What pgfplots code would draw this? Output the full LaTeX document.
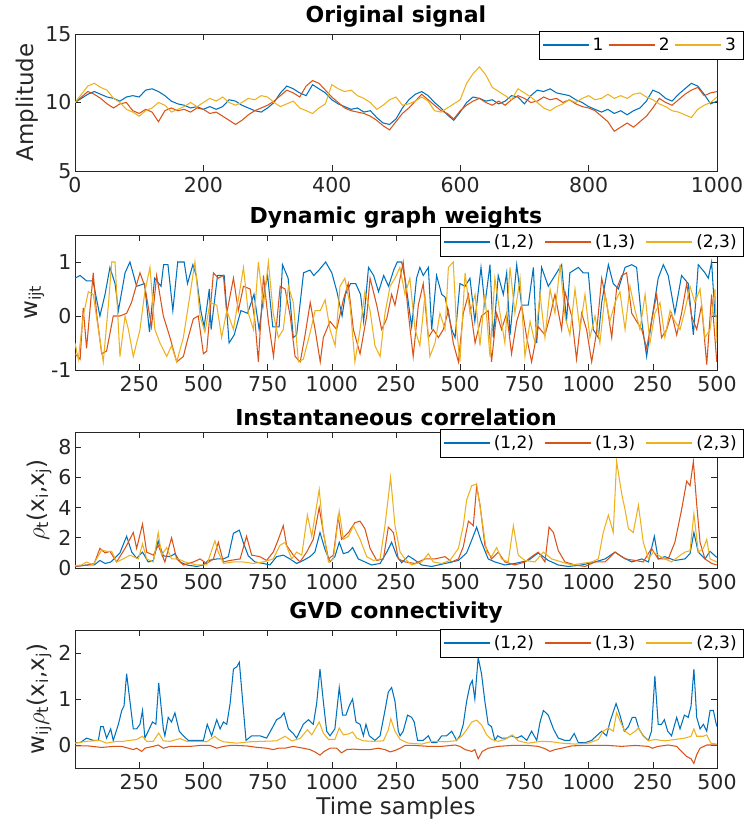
\documentclass[border=0pt]{standalone}
\usepackage{pgfplots}
\pgfplotsset{compat=1.18}
\usepackage{fontspec}
\setmainfont{DejaVu Sans}
\definecolor{mb}{rgb}{0,0.447,0.741}
\definecolor{mr}{rgb}{0.85,0.325,0.098}
\definecolor{my}{rgb}{0.929,0.694,0.125}
\definecolor{axc}{rgb}{0.15,0.15,0.15}
\pgfplotsset{
 gvd/.style={
  scale only axis, width=642pt, height=136pt,
  axis line style={draw=axc, line width=0.6pt},
  tick style={draw=axc, line width=0.6pt},
  major tick length=6pt, tick align=inside,
  tick label style={font=\fontsize{20.5}{22}\selectfont, text=axc},
  xticklabel style={yshift=-3pt},
  label style={font=\fontsize{23}{25}\selectfont, text=axc},
  title style={font=\fontsize{22}{24}\selectfont\bfseries, text=black, yshift=-3pt},
  /pgf/number format/assume math mode=true,
  /pgf/number format/1000 sep={},
  every axis plot/.append style={line width=1.05pt, mark=none},
  legend columns=3,
  legend style={font=\fontsize{17}{19}\selectfont, draw=black, line width=0.6pt, fill=white,
    inner xsep=3pt, inner ysep=2pt, anchor=north east,
    nodes={inner xsep=4pt, inner ysep=5pt},
    /tikz/every even column/.append style={column sep=7pt}},
  legend image code/.code={\fill[##1, draw=none] (0pt,-0.8pt) rectangle (46pt,0.8pt);},
 },
 wide/.style={xmin=0, xmax=2500, xtick={250,500,...,2500},
  xticklabels={250,500,750,1000,250,500,750,1000,250,500}},
}
\begin{document}
\begin{tikzpicture}
\path[use as bounding box] (0,0) rectangle (744pt,830pt);
% ---------------- Panel 1
\begin{axis}[gvd, at={(75pt,796pt)}, anchor=north west, height=137pt,
  title={Original signal}, ylabel={Amplitude},
  xmin=0, xmax=1000, ymin=5, ymax=15, xtick={0,200,...,1000}, ytick={5,10,15},
  legend style={at={(1.041,1.024)}, /tikz/every even column/.append style={column sep=1.5pt}}]
\addplot[mb] coordinates {(0,10.0)(10,10.3)(20,10.6)(30,10.8)(40,10.6)(50,10.4)(60,10.3)(70,10.1)(80,10.4)(90,10.5)(100,10.4)(110,10.9)(120,11.0)(130,10.8)(140,10.5)(150,10.1)(160,9.9)(170,9.8)(180,9.6)(190,9.7)(200,9.5)(210,9.7)(220,9.5)(230,9.7)(240,10.2)(250,10.1)(260,9.8)(270,9.6)(280,9.4)(290,9.3)(300,9.6)(310,10.0)(320,10.7)(330,11.2)(340,11.0)(350,10.7)(360,10.5)(370,11.3)(380,11.0)(390,10.7)(400,10.2)(410,9.9)(420,9.7)(430,9.5)(440,9.6)(450,9.3)(460,9.4)(470,8.9)(480,8.5)(490,8.4)(500,8.8)(510,9.6)(520,10.2)(530,10.6)(540,10.8)(550,10.5)(560,10.0)(570,9.6)(580,9.1)(590,8.7)(600,9.3)(610,10.0)(620,10.4)(630,10.3)(640,10.1)(650,10.2)(660,9.9)(670,10.1)(680,10.5)(690,10.4)(700,9.9)(710,10.5)(720,10.9)(730,10.8)(740,11.0)(750,10.7)(760,10.6)(770,10.5)(780,10.2)(790,10.0)(800,9.7)(810,9.5)(820,9.3)(830,9.5)(840,9.2)(850,9.4)(860,9.1)(870,9.4)(880,9.6)(890,10.1)(900,10.9)(910,10.7)(920,10.3)(930,10.1)(940,10.6)(950,11.0)(960,11.4)(970,11.2)(980,10.6)(990,9.9)(1000,10.1)};
\addplot[mr] coordinates {(0,10.0)(10,10.4)(20,10.8)(30,10.6)(40,10.3)(50,9.9)(60,9.6)(70,9.9)(80,10.0)(90,9.4)(100,9.2)(110,9.5)(120,9.3)(130,8.6)(140,9.4)(150,9.6)(160,9.4)(170,9.5)(180,9.3)(190,9.6)(200,9.5)(210,9.2)(220,9.3)(230,9.0)(240,8.7)(250,8.4)(260,8.7)(270,9.1)(280,9.4)(290,9.6)(300,9.8)(310,10.1)(320,10.5)(330,10.9)(340,10.7)(350,10.4)(360,11.2)(370,11.6)(380,11.4)(390,10.9)(400,10.4)(410,10.0)(420,9.6)(430,9.4)(440,9.3)(450,9.2)(460,9.0)(470,8.7)(480,8.3)(490,8.0)(500,8.6)(510,9.2)(520,9.6)(530,10.1)(540,10.6)(550,10.2)(560,9.8)(570,9.4)(580,9.2)(590,8.8)(600,9.4)(610,9.8)(620,10.1)(630,10.3)(640,10.0)(650,9.8)(660,10.1)(670,9.8)(680,10.2)(690,10.5)(700,10.3)(710,10.0)(720,10.1)(730,10.4)(740,10.2)(750,10.3)(760,10.0)(770,10.2)(780,9.9)(790,9.7)(800,9.6)(810,9.4)(820,9.0)(830,8.6)(840,7.9)(850,8.2)(860,8.5)(870,8.2)(880,8.6)(890,9.0)(900,9.6)(910,10.3)(920,10.0)(930,9.8)(940,10.2)(950,10.6)(960,10.9)(970,11.1)(980,10.5)(990,10.7)(1000,10.8)};
\addplot[my] coordinates {(0,10.0)(10,10.6)(20,11.2)(30,11.4)(40,11.1)(50,10.9)(60,10.3)(70,10.0)(80,9.5)(90,9.3)(100,9.0)(110,9.4)(120,9.6)(130,10.0)(140,9.8)(150,9.3)(160,9.5)(170,9.7)(180,10.0)(190,9.7)(200,10.0)(210,10.3)(220,10.1)(230,10.4)(240,10.0)(250,9.8)(260,10.0)(270,10.3)(280,10.2)(290,10.5)(300,10.4)(310,10.0)(320,9.7)(330,9.9)(340,10.1)(350,9.6)(360,9.4)(370,9.2)(380,9.6)(390,9.9)(400,11.3)(410,11.0)(420,10.8)(430,10.9)(440,10.5)(450,10.3)(460,10.0)(470,9.5)(480,9.8)(490,10.2)(500,10.4)(510,9.8)(520,9.9)(530,10.1)(540,10.4)(550,10.1)(560,9.4)(570,9.3)(580,9.6)(590,9.9)(600,10.2)(610,11.4)(620,12.1)(630,12.6)(640,12.0)(650,11.1)(660,10.8)(670,10.5)(680,10.2)(690,11.0)(700,10.7)(710,10.4)(720,10.0)(730,9.6)(740,9.4)(750,9.7)(760,9.9)(770,10.2)(780,10.0)(790,10.3)(800,10.5)(810,10.2)(820,10.3)(830,10.6)(840,10.3)(850,10.5)(860,10.3)(870,10.6)(880,10.7)(890,10.4)(900,10.2)(910,9.9)(920,9.7)(930,9.4)(940,9.3)(950,9.1)(960,8.9)(970,9.5)(980,9.8)(990,10.0)(1000,10.4)};
\legend{1,2,3}
\end{axis}
% ---------------- Panel 2
\begin{axis}[gvd, wide, at={(75pt,595pt)}, anchor=north west, height=135pt,
  title={Dynamic graph weights}, ylabel={w\textsubscript{ijt}},
  ymin=-1, ymax=1.5, ytick={-1,0,1},
  legend style={at={(1.042,1.056)}}]
\addplot[mb] coordinates {(0,0.7)(20,0.75)(45,0.65)(70,0.65)(97,0.0)(117,0.4)(136,0.9)(156,0.6)(169,0.1)(195,0.8)(214,1.0)(240,0.55)(271,0.6)(290,-0.3)(310,0.7)(335,0.55)(345,0.95)(362,0.95)(381,0.1)(400,1.0)(425,1.0)(438,0.6)(459,0.95)(472,0.75)(490,0.1)(503,-0.2)(523,0.5)(530,-0.25)(555,0.75)(581,0.75)(600,-0.5)(620,-0.35)(646,0.1)(672,0.05)(697,0.4)(717,-0.25)(737,0.45)(750,0.75)(770,-0.2)(795,-0.2)(808,0.95)(830,0.7)(850,-0.4)(863,-0.35)(890,0.8)(915,0.85)(930,0.75)(950,0.85)(976,1.0)(1000,0.8)(1020,0.45)(1040,0.0)(1053,0.4)(1073,0.6)(1093,0.6)(1112,0.4)(1124,-0.1)(1143,0.9)(1163,0.75)(1182,0.45)(1202,0.75)(1221,0.55)(1241,0.85)(1255,1.0)(1272,1.0)(1285,0.7)(1311,-0.2)(1330,0.7)(1343,0.9)(1356,0.75)(1376,0.9)(1389,-0.25)(1408,0.75)(1428,0.4)(1441,0.35)(1467,-0.25)(1480,-0.4)(1499,0.6)(1519,0.55)(1538,0.7)(1557,-0.1)(1581,0.9)(1596,0.2)(1616,0.95)(1629,-0.4)(1648,0.75)(1668,0.4)(1681,0.8)(1694,-0.35)(1720,0.95)(1739,0.2)(1765,0.2)(1785,0.9)(1798,-0.5)(1817,0.9)(1843,0.55)(1869,0.75)(1895,0.95)(1914,-0.1)(1927,0.8)(1960,0.9)(1979,0.8)(1999,0.8)(2018,-0.25)(2038,-0.4)(2051,0.25)(2077,0.95)(2096,0.6)(2116,0.5)(2142,0.9)(2168,0.95)(2187,0.9)(2207,-0.1)(2226,-0.75)(2245,-0.1)(2271,0.7)(2291,0.95)(2310,0.75)(2336,0.05)(2362,0.75)(2388,0.6)(2408,-0.35)(2427,0.95)(2453,0.8)(2466,0.7)(2479,1.0)(2492,0.0)(2500,0.0)};
\addplot[mr] coordinates {(0,-0.7)(20,-0.8)(32,0.15)(45,-0.6)(71,0.8)(84,0.05)(104,-0.7)(123,-0.65)(149,0.0)(175,0.0)(201,0.05)(220,0.25)(253,0.8)(272,0.55)(298,-0.2)(318,0.75)(344,0.0)(370,-0.4)(396,-0.85)(422,-0.75)(435,-0.5)(461,-0.05)(480,0.0)(500,-0.7)(513,-0.65)(539,0.8)(558,0.7)(578,0.75)(591,0.05)(617,0.7)(636,0.1)(656,0.55)(682,0.5)(701,-0.1)(714,-0.85)(734,0.75)(753,-0.1)(773,-0.75)(799,0.55)(818,0.5)(838,0.0)(857,-0.75)(877,-0.85)(896,-0.35)(916,0.25)(935,-0.25)(955,-0.85)(967,-0.4)(993,-0.1)(1019,-0.25)(1045,0.3)(1064,0.6)(1084,-0.25)(1110,-0.7)(1136,0.0)(1149,0.7)(1175,0.2)(1194,-0.25)(1214,-0.05)(1233,0.4)(1246,0.2)(1278,1.0)(1298,0.05)(1317,-0.75)(1337,0.2)(1356,0.6)(1376,-0.4)(1395,-0.25)(1415,-0.4)(1434,-0.25)(1454,0.1)(1473,-0.5)(1493,-0.85)(1512,0.05)(1532,0.4)(1558,-0.5)(1583,0.0)(1609,0.1)(1622,-0.85)(1642,0.05)(1661,-0.25)(1681,0.05)(1700,-0.7)(1720,-0.1)(1739,0.2)(1759,-0.4)(1778,-0.85)(1804,-0.2)(1830,-0.35)(1850,0.0)(1869,0.4)(1895,-0.25)(1908,0.45)(1934,0.0)(1953,-0.8)(1973,0.05)(1992,-0.25)(2012,-0.85)(2031,-0.3)(2051,0.7)(2070,0.25)(2090,-0.4)(2109,0.5)(2129,0.75)(2148,0.8)(2168,0.05)(2187,-0.1)(2207,-0.25)(2226,-0.6)(2245,-0.1)(2265,0.4)(2284,-0.4)(2304,-0.25)(2323,0.05)(2343,-0.35)(2362,0.05)(2382,0.6)(2401,0.0)(2421,-0.25)(2440,0.2)(2460,-0.9)(2479,0.4)(2499,-0.85)};
\addplot[my] coordinates {(0,-0.5)(13,-0.8)(32,0.0)(52,0.45)(71,0.4)(91,-0.25)(110,-0.85)(130,0.2)(143,1.0)(156,1.0)(175,-0.75)(195,0.0)(208,-0.25)(227,-0.75)(253,-0.25)(272,0.45)(292,0.9)(311,-0.25)(331,-0.5)(357,-0.75)(376,-0.55)(396,-0.85)(422,-0.4)(448,0.4)(467,1.0)(487,0.0)(506,-0.3)(526,0.25)(552,0.2)(571,-0.4)(591,0.1)(617,-0.25)(636,0.3)(656,0.9)(675,0.05)(695,-0.25)(714,1.0)(734,0.2)(753,1.0)(772,0.05)(792,-0.4)(811,-0.25)(831,0.55)(850,0.25)(870,-0.85)(889,-0.8)(916,-0.3)(935,0.1)(955,0.1)(974,0.3)(993,-0.25)(1013,-0.55)(1032,0.55)(1051,0.7)(1071,0.2)(1090,-0.85)(1110,-0.25)(1129,0.45)(1149,0.1)(1168,-0.55)(1188,-0.75)(1207,0.05)(1227,0.55)(1246,0.7)(1265,0.9)(1285,0.4)(1304,0.7)(1324,-0.25)(1343,-0.55)(1363,0.4)(1382,-0.75)(1402,-0.5)(1421,0.05)(1441,-0.25)(1454,0.9)(1473,1.0)(1486,-0.25)(1499,-0.85)(1519,0.8)(1538,0.05)(1558,0.4)(1577,-0.55)(1596,0.4)(1616,-0.75)(1635,0.7)(1655,0.05)(1674,-0.5)(1694,0.9)(1713,0.05)(1733,0.7)(1752,-0.75)(1772,-0.1)(1791,-0.5)(1811,0.4)(1830,-0.4)(1850,0.5)(1869,0.05)(1889,0.95)(1908,0.0)(1927,-0.35)(1947,0.5)(1966,-0.25)(1986,0.4)(2005,-0.4)(2025,0.0)(2044,-0.5)(2064,0.4)(2083,-0.1)(2103,0.25)(2122,0.45)(2142,-0.25)(2161,0.55)(2181,0.1)(2200,-0.25)(2220,0.4)(2239,-0.5)(2258,0.05)(2278,0.25)(2297,-0.4)(2317,0.1)(2336,-0.1)(2356,-0.25)(2375,0.1)(2395,0.55)(2414,0.25)(2434,0.5)(2453,-0.4)(2473,-0.25)(2492,0.5)(2500,-0.5)};
\legend{(1,2),(1,3),(2,3)}
\end{axis}
% ---------------- Panel 3
\begin{axis}[gvd, wide, at={(75pt,398pt)}, anchor=north west,
  title={Instantaneous correlation}, ylabel={$\rho$\textsubscript{t}(x\textsubscript{i},x\textsubscript{j})},
  ymin=0, ymax=9, ytick={0,2,4,6,8},
  legend style={at={(1.042,1.024)}}]
\addplot[mb] coordinates {(0,0.1)(25,0.15)(50,0.2)(75,0.2)(97,0.5)(117,0.3)(140,0.4)(175,1.0)(201,2.1)(221,1.05)(240,0.65)(263,1.05)(285,0.4)(305,0.5)(324,1.8)(344,0.8)(370,0.75)(389,0.95)(409,0.4)(435,0.2)(474,0.1)(500,0.2)(519,0.5)(552,0.6)(578,0.6)(597,0.75)(617,2.3)(640,2.5)(656,1.65)(675,0.8)(701,0.4)(733,0.3)(759,0.2)(785,0.75)(811,0.85)(837,0.6)(863,0.3)(889,0.5)(915,0.75)(934,1.05)(954,2.35)(973,1.25)(993,0.4)(1012,0.75)(1029,1.7)(1045,0.95)(1064,1.05)(1081,1.35)(1103,0.6)(1129,0.4)(1155,0.2)(1188,0.3)(1214,1.05)(1233,1.7)(1253,0.8)(1272,0.35)(1298,0.8)(1317,0.6)(1350,0.2)(1389,0.1)(1441,0.3)(1493,0.5)(1525,1.0)(1545,1.85)(1564,2.7)(1583,1.7)(1609,0.6)(1635,0.4)(1674,0.2)(1713,0.3)(1765,0.5)(1804,1.0)(1843,0.5)(1882,0.2)(1921,0.1)(1973,0.2)(2025,0.4)(2064,0.6)(2103,1.05)(2129,0.75)(2168,0.4)(2207,0.6)(2233,0.4)(2256,2.1)(2271,0.6)(2297,0.75)(2336,0.5)(2375,0.6)(2395,0.95)(2410,2.35)(2427,1.05)(2453,0.6)(2473,1.1)(2499,0.7)};
\addplot[mr] coordinates {(0,0.1)(25,0.15)(50,0.2)(75,0.3)(97,1.3)(117,1.0)(136,1.1)(162,0.4)(195,1.3)(227,2.35)(240,1.3)(263,2.9)(279,1.05)(305,0.85)(324,1.5)(350,0.4)(376,2.0)(396,0.6)(422,0.2)(461,0.4)(487,0.6)(513,0.3)(539,0.6)(558,1.7)(578,0.4)(604,0.5)(643,0.6)(668,2.1)(688,0.85)(720,0.75)(746,0.5)(772,1.05)(792,1.9)(811,2.8)(824,1.5)(850,0.85)(876,0.4)(902,1.05)(928,1.9)(951,4.0)(967,2.35)(987,0.6)(1006,0.85)(1025,3.4)(1038,1.9)(1065,2.35)(1090,3.0)(1110,3.1)(1129,2.6)(1149,1.3)(1175,0.5)(1201,0.6)(1220,2.7)(1240,2.35)(1259,0.6)(1285,0.4)(1324,0.3)(1363,0.6)(1402,0.6)(1441,0.75)(1467,0.4)(1493,0.6)(1512,1.4)(1532,3.1)(1551,2.8)(1564,5.4)(1577,4.2)(1596,1.5)(1622,0.6)(1648,1.05)(1674,0.4)(1713,0.2)(1752,0.4)(1778,0.75)(1804,1.05)(1830,0.4)(1846,2.7)(1863,2.35)(1882,1.15)(1908,0.4)(1947,0.2)(1986,0.1)(2025,0.4)(2064,0.4)(2103,1.05)(2142,0.6)(2181,0.5)(2213,0.4)(2245,1.3)(2271,0.6)(2310,0.6)(2336,1.7)(2362,3.85)(2382,5.75)(2395,5.45)(2408,7.05)(2421,4.2)(2434,1.7)(2453,0.6)(2479,0.3)(2499,0.2)};
\addplot[my] coordinates {(0,0.15)(25,0.2)(45,0.4)(71,0.2)(104,1.2)(123,1.1)(143,1.1)(162,0.4)(188,0.6)(214,0.85)(247,0.6)(263,1.6)(279,0.6)(305,0.4)(324,2.35)(337,0.85)(357,1.35)(376,0.6)(402,0.6)(428,0.4)(474,0.2)(513,0.2)(545,1.8)(558,1.05)(578,0.3)(617,0.4)(655,0.4)(694,0.3)(733,0.4)(772,0.6)(798,1.5)(818,1.7)(844,0.6)(863,1.05)(883,0.85)(905,3.5)(922,2.1)(951,5.2)(967,2.35)(987,0.4)(1006,0.6)(1029,3.75)(1045,1.9)(1065,2.1)(1084,2.8)(1110,1.9)(1136,0.75)(1162,0.5)(1188,0.6)(1207,2.8)(1229,6.0)(1246,2.8)(1266,1.05)(1285,0.6)(1311,0.2)(1350,0.4)(1376,0.95)(1395,0.4)(1428,0.3)(1460,0.5)(1493,1.3)(1512,2.8)(1525,4.5)(1545,5.45)(1564,5.55)(1583,3.4)(1603,1.05)(1622,0.75)(1642,1.35)(1661,0.6)(1687,0.4)(1707,2.8)(1726,0.85)(1752,0.5)(1791,0.4)(1824,1.05)(1856,0.6)(1895,0.4)(1934,0.2)(1973,0.3)(2012,0.4)(2038,0.6)(2057,2.35)(2077,3.5)(2096,2.35)(2109,7.05)(2129,4.9)(2142,3.85)(2155,2.6)(2174,2.35)(2194,4.15)(2213,1.7)(2233,0.6)(2252,1.05)(2271,0.85)(2297,0.6)(2323,0.4)(2349,0.75)(2375,1.05)(2395,1.15)(2410,3.6)(2427,1.05)(2447,1.3)(2460,1.9)(2473,0.6)(2499,0.4)};
\legend{(1,2),(1,3),(2,3)}
\end{axis}
% ---------------- Panel 4
\begin{axis}[gvd, wide, at={(75pt,200pt)}, anchor=north west, height=138pt,
  title={GVD connectivity}, xlabel={Time samples},
  ylabel={w\textsubscript{ij}$\rho$\textsubscript{t}(x\textsubscript{i},x\textsubscript{j})},
  ymin=-0.5, ymax=2.5, ytick={0,1,2},
  legend style={at={(1.042,1.01)}}]
\addplot[mb] coordinates {(0,0.05)(20,0.05)(45,0.15)(71,0.1)(91,0.1)(100,0.4)(110,0.4)(123,0.15)(139,0.35)(149,0.1)(169,0.45)(182,0.75)(191,0.85)(201,1.55)(214,0.95)(227,0.35)(240,0.35)(253,0.45)(263,0.75)(272,0.15)(285,0.3)(302,0.5)(315,0.45)(326,1.35)(344,0.35)(350,0.2)(363,0.6)(376,0.5)(389,0.7)(406,0.3)(422,0.2)(441,0.1)(461,0.1)(480,0.1)(500,0.1)(515,0.45)(532,0.2)(552,0.55)(565,0.35)(578,0.5)(591,0.45)(604,0.9)(617,1.65)(630,1.7)(640,1.8)(653,0.95)(666,0.1)(688,0.2)(720,0.2)(746,0.15)(766,0.35)(785,0.55)(801,0.6)(814,0.7)(831,0.35)(850,0.25)(863,0.15)(876,0.3)(889,0.45)(909,0.55)(928,0.45)(941,0.9)(954,1.65)(967,0.95)(980,0.3)(993,0.2)(1012,0.35)(1029,1.25)(1042,0.65)(1055,0.65)(1068,0.85)(1081,1.0)(1094,0.5)(1110,0.45)(1123,0.2)(1133,0.45)(1146,0.2)(1168,0.1)(1188,0.2)(1207,0.75)(1220,1.15)(1233,1.25)(1246,0.95)(1259,0.3)(1266,0.2)(1278,0.3)(1295,0.65)(1311,0.6)(1321,0.5)(1334,0.1)(1356,0.1)(1376,0.2)(1389,0.05)(1408,0.05)(1428,0.2)(1447,0.2)(1467,0.3)(1486,0.1)(1499,0.2)(1512,0.45)(1525,0.95)(1538,1.3)(1547,1.4)(1557,1.0)(1570,1.9)(1583,1.55)(1596,0.95)(1609,0.45)(1622,0.4)(1635,0.1)(1646,0.2)(1661,0.15)(1681,0.15)(1700,0.2)(1720,0.15)(1739,0.2)(1759,0.1)(1778,0.3)(1798,0.1)(1811,0.5)(1824,0.75)(1843,0.65)(1863,0.35)(1882,0.15)(1908,0.1)(1927,0.1)(1944,0.25)(1960,0.05)(1986,0.05)(2012,0.1)(2031,0.2)(2051,0.3)(2070,0.2)(2083,0.5)(2107,0.9)(2122,0.65)(2139,0.3)(2155,0.4)(2170,0.6)(2183,0.6)(2196,0.35)(2213,0.2)(2233,0.1)(2245,0.3)(2258,1.5)(2271,0.45)(2284,0.45)(2295,0.55)(2308,0.3)(2323,0.2)(2343,0.6)(2356,0.35)(2373,0.65)(2388,0.6)(2399,0.85)(2410,1.65)(2421,0.6)(2434,0.35)(2447,0.45)(2460,0.3)(2473,0.75)(2486,0.75)(2495,0.5)(2500,0.4)};
\addplot[mr] coordinates {(0,-0.02)(50,-0.02)(100,-0.05)(110,-0.05)(150,-0.03)(182,-0.03)(227,-0.1)(240,-0.07)(260,-0.14)(272,-0.07)(305,-0.03)(324,0.0)(344,-0.07)(370,-0.03)(409,-0.03)(448,-0.03)(487,-0.01)(526,-0.01)(552,-0.07)(578,-0.03)(604,-0.01)(630,-0.01)(668,-0.02)(707,-0.05)(746,-0.07)(772,-0.1)(792,-0.07)(818,-0.07)(850,-0.03)(889,-0.07)(915,-0.1)(934,-0.15)(954,-0.22)(970,-0.14)(993,-0.07)(1019,-0.07)(1038,-0.17)(1058,-0.1)(1084,-0.09)(1110,-0.1)(1149,-0.1)(1181,-0.07)(1207,-0.1)(1227,-0.15)(1246,-0.12)(1266,-0.07)(1285,-0.01)(1324,-0.01)(1376,-0.03)(1428,-0.03)(1480,0.0)(1499,-0.03)(1519,-0.1)(1545,-0.14)(1557,-0.1)(1570,-0.3)(1586,-0.14)(1609,-0.07)(1648,-0.03)(1700,-0.01)(1765,-0.01)(1804,-0.03)(1830,-0.08)(1850,-0.14)(1869,-0.1)(1895,-0.07)(1934,-0.02)(1973,-0.01)(2025,-0.01)(2077,-0.01)(2129,-0.03)(2181,-0.01)(2233,-0.03)(2248,-0.07)(2271,-0.03)(2310,0.0)(2343,-0.03)(2362,-0.14)(2382,-0.25)(2399,-0.3)(2410,-0.4)(2421,-0.21)(2434,-0.07)(2460,0.0)(2500,0.0)};
\addplot[my] coordinates {(0,0.04)(45,0.08)(97,0.1)(123,0.04)(162,0.08)(188,0.08)(240,0.12)(263,0.19)(279,0.08)(305,0.08)(326,0.26)(344,0.09)(370,0.08)(396,0.12)(409,0.14)(435,0.08)(474,0.08)(513,0.07)(545,0.19)(558,0.12)(578,0.07)(630,0.04)(681,0.07)(733,0.08)(785,0.09)(818,0.19)(844,0.09)(876,0.14)(905,0.33)(922,0.22)(951,0.5)(967,0.26)(987,0.12)(1012,0.12)(1029,0.37)(1045,0.22)(1065,0.24)(1081,0.28)(1097,0.15)(1123,0.09)(1162,0.08)(1201,0.09)(1220,0.33)(1230,0.57)(1246,0.3)(1266,0.12)(1298,0.04)(1350,0.02)(1389,0.08)(1441,0.07)(1480,0.09)(1506,0.19)(1525,0.33)(1545,0.5)(1564,0.54)(1583,0.44)(1603,0.22)(1622,0.12)(1648,0.08)(1674,0.12)(1703,0.22)(1726,0.09)(1765,0.04)(1817,0.08)(1856,0.07)(1895,0.04)(1947,0.02)(1999,0.04)(2038,0.12)(2057,0.3)(2077,0.37)(2096,0.3)(2109,0.7)(2129,0.44)(2142,0.3)(2161,0.22)(2181,0.3)(2194,0.37)(2213,0.19)(2233,0.09)(2258,0.12)(2297,0.09)(2336,0.12)(2375,0.15)(2399,0.19)(2410,0.35)(2421,0.19)(2447,0.19)(2460,0.22)(2476,0.04)(2499,0.02)};
\legend{(1,2),(1,3),(2,3)}
\end{axis}
\end{tikzpicture}
\end{document}
